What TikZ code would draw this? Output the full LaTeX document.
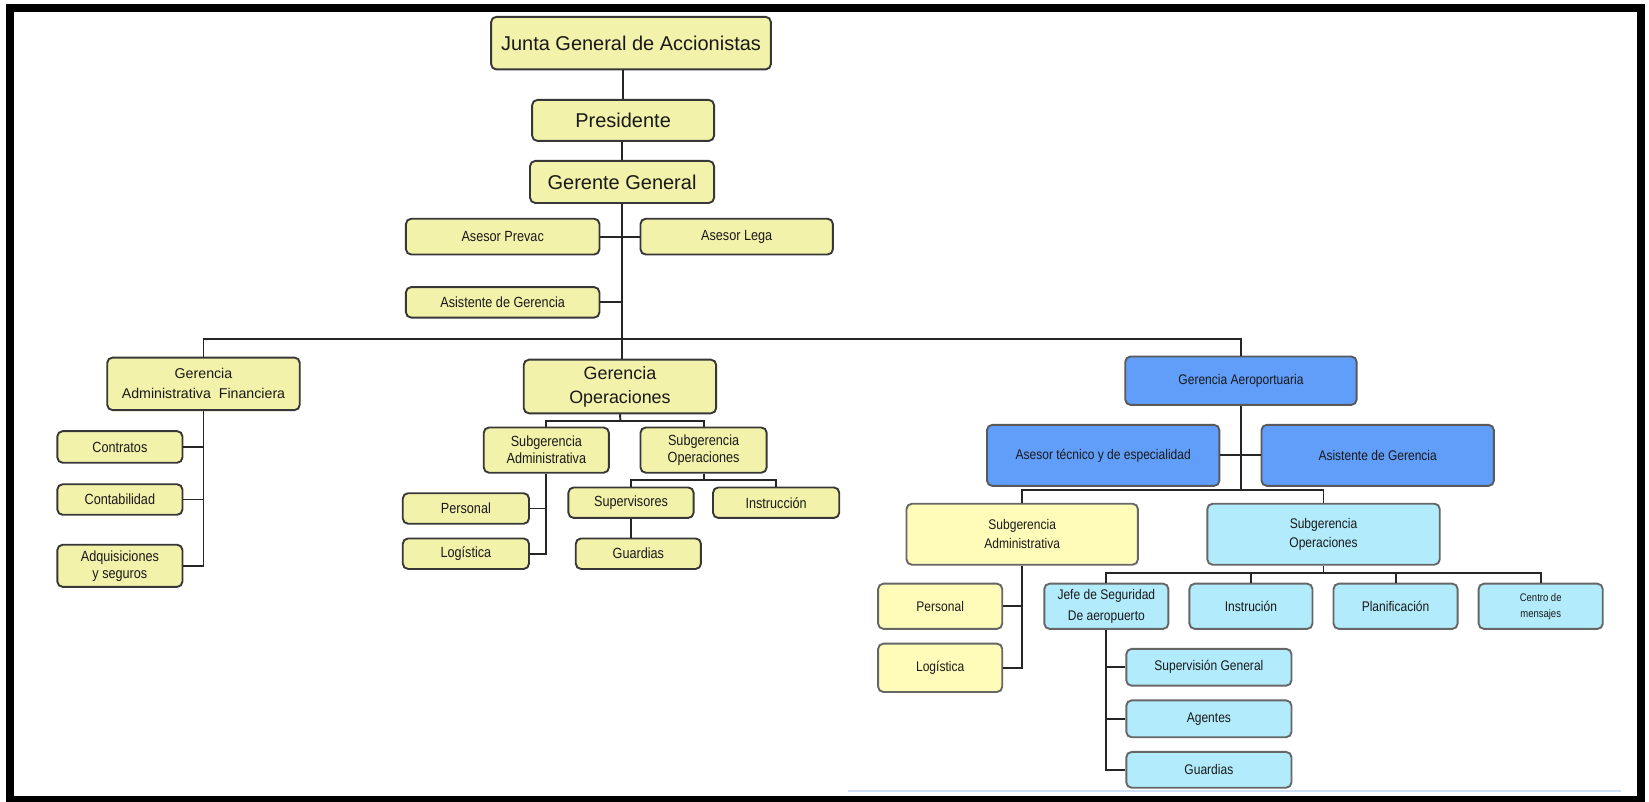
\documentclass[tikz,border=0pt]{standalone}
\usepackage{fontspec}
\setmainfont{Liberation Sans}
\newfontfamily\condf[FakeStretch=0.86]{Liberation Sans}
\newcommand\fsz[2]{\fontsize{#1}{#2}\selectfont}
\definecolor{yel}{RGB}{242,242,170}
\definecolor{yelr}{RGB}{255,252,186}
\definecolor{blu}{RGB}{97,158,250}
\definecolor{cya}{RGB}{178,236,252}
\definecolor{edge}{RGB}{55,55,55}
\definecolor{ruleblue}{RGB}{205,222,250}
\begin{document}
\begin{tikzpicture}[x=1pt,y=-1pt,
  box/.style={draw=edge, line width=1.8pt, rounded corners=5pt, inner sep=0pt,
    align=center, text=black!90},
  ybox/.style={box, fill=yel},
  yrbox/.style={box, fill=yelr, draw=black!60},
  bbox/.style={box, fill=blu, draw=black!65},
  cbox/.style={box, fill=cya, draw=black!60},
  big/.style={font=\fsz{19}{22}},
  sm/.style={font=\condf\fsz{14}{16}},
  smr/.style={font=\condf\fsz{13.3}{18}},
  wire/.style={draw=black!85, line width=1.8pt}]

\useasboundingbox (0,0) rectangle (1568,762);
% outer frame
\draw[line width=7.6pt] (9.5,7.6) rectangle (1560.3,760.7);
\draw[ruleblue, line width=2pt] (806,752) -- (1541,752);

% top of the hierarchy
\node[ybox, big, minimum width=266, minimum height=50] (junta) at (600,41) {Junta General de Accionistas};
\node[ybox, big, minimum width=173, minimum height=39] (pres) at (592.5,114.5) {Presidente};
\node[ybox, big, minimum width=175, minimum height=40] (gg) at (591.5,173) {Gerente General};
\node[ybox, sm, minimum width=184, minimum height=34] (aprev) at (478,225) {Asesor Prevac};
\node[ybox, sm, minimum width=183, minimum height=34] (alegal) at (700.5,225) {Asesor Lega};
\node[ybox, sm, minimum width=184, minimum height=29] (asist) at (478,287.5) {Asistente de Gerencia};

% management level
\node[ybox, font=\fsz{13.5}{19}, minimum width=183, minimum height=50] (gaf) at (193.5,365) {Gerencia\\Administrativa\ \ Financiera};
\node[ybox, font=\fsz{17}{23}, minimum width=183, minimum height=51] (gop) at (589.5,367.5) {Gerencia\\Operaciones};
\node[bbox, smr, minimum width=220, minimum height=46] (gaero) at (1180,362) {Gerencia Aeroportuaria};

% administrative and financial area
\node[ybox, sm, minimum width=119, minimum height=30] (contr) at (114,425) {Contratos};
\node[ybox, sm, minimum width=119, minimum height=29] (conta) at (114,475) {Contabilidad};
\node[ybox, sm, minimum width=119, minimum height=40] (adq) at (114,538) {Adquisiciones\\y seguros};

% operations area
\node[ybox, sm, minimum width=119, minimum height=43] (subadm) at (519.5,428) {Subgerencia\\Administrativa};
\node[ybox, sm, minimum width=120, minimum height=43] (subop) at (669,428) {Subgerencia\\Operaciones};
\node[ybox, sm, minimum width=120, minimum height=29] (pers) at (443,483.5) {Personal};
\node[ybox, sm, minimum width=120, minimum height=29] (logi) at (443,526.5) {Logística};
\node[ybox, sm, minimum width=119, minimum height=29] (superv) at (600,478) {Supervisores};
\node[ybox, sm, minimum width=120, minimum height=29] (instr) at (738,478) {Instrucción};
\node[ybox, sm, minimum width=119, minimum height=29] (guard) at (607,526.5) {Guardias};

% airport area
\node[bbox, smr, minimum width=221, minimum height=58] (atec) at (1049,433) {Asesor técnico y de especialidad};
\node[bbox, smr, minimum width=221, minimum height=58] (asistb) at (1310,433) {Asistente de Gerencia};
\node[yrbox, smr, minimum width=220, minimum height=58] (sadmr) at (972,508) {Subgerencia\\Administrativa};
\node[cbox, smr, minimum width=221, minimum height=58] (soper) at (1258.5,508) {Subgerencia\\Operaciones};
\node[yrbox, smr, minimum width=118, minimum height=43] (persr) at (894,576.5) {Personal};
\node[yrbox, smr, minimum width=118, minimum height=46] (logr) at (894,635) {Logística};
\node[cbox, smr, font=\condf\fsz{13.3}{20}, minimum width=118, minimum height=43] (jefe) at (1052,576.5) {Jefe de Seguridad\\De aeropuerto};
\node[cbox, smr, minimum width=117, minimum height=43] (instr2) at (1189.5,576.5) {Instrución};
\node[cbox, smr, minimum width=118, minimum height=43] (plan) at (1327,576.5) {Planificación};
\node[cbox, font=\condf\fsz{10.5}{15}, minimum width=118, minimum height=43] (centro) at (1465,576.5) {Centro de\\mensajes};
\node[cbox, smr, minimum width=157, minimum height=35] (supgen) at (1149.5,634.5) {Supervisión General};
\node[cbox, smr, minimum width=157, minimum height=35] (agent) at (1149.5,683.5) {Agentes};
\node[cbox, smr, minimum width=157, minimum height=34] (guard2) at (1149.5,732) {Guardias};

% junction points of the buses
\coordinate (busTop) at (592,322);
\coordinate (busGO) at (590,400.5);
\coordinate (busSO) at (669,456);
\coordinate (busGA) at (1180,466);
\coordinate (busSOr) at (1258.5,545);

% connectors
\draw[wire] (pres.north) -- (pres.north |- junta.south);
\draw[wire] (gg.north) -- (gg.north |- pres.south);
\draw[wire] (gg.south) -- (gg.south |- gop.north);
\draw[wire] (aprev.east) -- (aprev.east -| gg.south);
\draw[wire] (alegal.west) -- (alegal.west -| gg.south);
\draw[wire] (asist.east) -- (asist.east -| gg.south);
\draw[wire] (gaf.north) |- (busTop) -| (gaero.north);

\draw[wire] (gaf.south) |- (adq.east);
\draw[wire] (contr.east) -- (contr.east -| gaf.south);
\draw[wire] (conta.east) -- (conta.east -| gaf.south);

\draw[wire] (gop.south) -- (busGO);
\draw[wire] (subadm.north) |- (busGO) -| (subop.north);
\draw[wire] (subadm.south) |- (logi.east);
\draw[wire] (pers.east) -- (pers.east -| subadm.south);
\draw[wire] (subop.south) -- (busSO);
\draw[wire] (superv.north) |- (busSO) -| (instr.north);
\draw[wire] (superv.south) -- (superv.south |- guard.north);

\draw[wire] (gaero.south) -- (busGA);
\draw[wire] (atec.east) -- (atec.east -| gaero.south);
\draw[wire] (asistb.west) -- (asistb.west -| gaero.south);
\draw[wire] (sadmr.north) |- (busGA) -| (soper.north);
\draw[wire] (sadmr.south) |- (logr.east);
\draw[wire] (persr.east) -- (persr.east -| sadmr.south);
\draw[wire] (soper.south) -- (busSOr);
\draw[wire] (jefe.north) |- (busSOr) -| (centro.north);
\draw[wire] (instr2.north) -- (instr2.north |- busSOr);
\draw[wire] (plan.north) -- (plan.north |- busSOr);
\draw[wire] (jefe.south) |- (guard2.west);
\draw[wire] (supgen.west) -- (supgen.west -| jefe.south);
\draw[wire] (agent.west) -- (agent.west -| jefe.south);
\end{tikzpicture}
\end{document}
